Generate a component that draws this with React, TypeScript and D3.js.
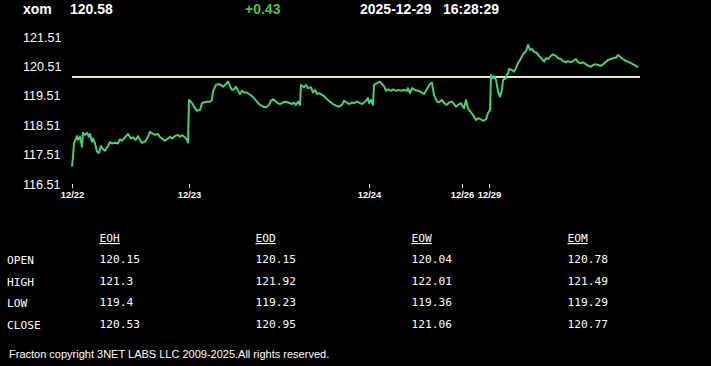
//@ts-nocheck
import * as d3 from "d3";
import { useEffect, useRef } from "react";

// header
const symbol = "xom";
const lastPrice = "120.58";
const change = "+0.43";
const quoteDate = "2025-12-29";
const quoteTime = "16:28:29";

// intraday series: [bar index, price]
const priceSeries = [
  [0, 117.1], [1, 117.44], [2, 117.89], [4, 118.06], [5, 118.14], [6, 118.01], [8, 118.12],
  [10, 117.78], [11, 118.25], [13, 118.18], [15, 118.25], [17, 118.12], [18, 118.21], [20, 117.95],
  [21, 118.06], [23, 117.89], [25, 117.61], [27, 117.57], [29, 117.8], [31, 117.69], [33, 117.64],
  [36, 117.8], [38, 117.94], [40, 117.89], [43, 117.91], [46, 117.89], [48, 118.03], [50, 117.98],
  [53, 118.1], [56, 118.21], [59, 118.06], [61, 118.1], [64, 118.01], [66, 118.14], [68, 118.01],
  [70, 117.91], [73, 117.95], [76, 118.12], [78, 118.29], [80, 118.23], [83, 118.18], [86, 118.21],
  [88, 118.1], [90, 118.06], [93, 117.98], [96, 118.06], [98, 118.12], [100, 118.06], [103, 118.14],
  [106, 118.18], [108, 118.12], [110, 118.17], [113, 118.1], [115, 118.01], [116, 117.92],
  [117, 119.37], [118, 119.34], [120, 119.26], [123, 119.09], [125, 119.0], [128, 119.03],
  [130, 119.26], [132, 119.28], [135, 119.31], [138, 119.31], [140, 119.37], [141, 119.65],
  [144, 119.88], [146, 119.91], [149, 119.88], [151, 119.82], [154, 119.91], [156, 119.99],
  [158, 119.84], [160, 119.71], [162, 119.73], [164, 119.82], [166, 119.68], [168, 119.57],
  [170, 119.68], [172, 119.62], [175, 119.62], [177, 119.57], [180, 119.5], [182, 119.43],
  [185, 119.31], [187, 119.23], [191, 119.14], [194, 119.12], [197, 119.2], [199, 119.34],
  [201, 119.39], [203, 119.34], [205, 119.28], [208, 119.23], [211, 119.28], [214, 119.31],
  [216, 119.28], [220, 119.23], [222, 119.28], [224, 119.2], [226, 119.31], [228, 119.2],
  [229, 119.88], [232, 119.8], [234, 119.88], [236, 119.77], [239, 119.8], [241, 119.62],
  [243, 119.71], [245, 119.57], [247, 119.6], [250, 119.54], [252, 119.5], [255, 119.39],
  [258, 119.31], [261, 119.23], [265, 119.16], [267, 119.14], [270, 119.2], [272, 119.34],
  [275, 119.28], [277, 119.23], [280, 119.28], [282, 119.26], [285, 119.31], [287, 119.28],
  [290, 119.23], [292, 119.28], [294, 119.34], [296, 119.43], [297, 119.26], [299, 119.37],
  [301, 119.2], [302, 119.88], [305, 119.94], [308, 119.99], [310, 119.91], [312, 119.84],
  [314, 119.68], [316, 119.73], [319, 119.68], [321, 119.73], [324, 119.68], [326, 119.71],
  [330, 119.68], [332, 119.71], [335, 119.68], [336, 119.77], [338, 119.6], [340, 119.77],
  [342, 119.73], [345, 119.68], [347, 119.68], [350, 119.62], [352, 119.57], [354, 119.68],
  [356, 119.8], [358, 119.91], [360, 119.96], [362, 119.54], [365, 119.31], [367, 119.29],
  [370, 119.37], [372, 119.26], [375, 119.2], [377, 119.28], [380, 119.31], [382, 119.23],
  [384, 119.14], [386, 119.2], [389, 119.26], [391, 119.14], [392, 119.09], [394, 119.37],
  [396, 119.09], [399, 118.94], [401, 118.86], [404, 118.69], [406, 118.75], [409, 118.71],
  [411, 118.66], [414, 118.71], [416, 118.92], [418, 119.03], [419, 120.22], [421, 120.11],
  [422, 120.18], [424, 120.05], [426, 119.65], [428, 119.48], [430, 119.71], [431, 120.05],
  [434, 120.11], [435, 120.22], [436, 120.28], [437, 120.42], [440, 120.39], [442, 120.33],
  [444, 120.45], [446, 120.62], [449, 120.79], [451, 120.92], [454, 121.03], [456, 121.24],
  [458, 121.07], [460, 121.1], [462, 121.01], [465, 120.96], [467, 120.87], [470, 120.76],
  [472, 120.67], [474, 120.79], [476, 120.76], [479, 120.87], [481, 120.92], [484, 120.87],
  [486, 120.79], [489, 120.76], [491, 120.69], [494, 120.65], [496, 120.69], [499, 120.65],
  [501, 120.69], [504, 120.76], [506, 120.65], [509, 120.62], [511, 120.65], [514, 120.58],
  [516, 120.53], [519, 120.5], [521, 120.56], [524, 120.58], [526, 120.56], [529, 120.53],
  [531, 120.58], [534, 120.67], [536, 120.73], [539, 120.76], [541, 120.79], [544, 120.81],
  [546, 120.9], [549, 120.81], [551, 120.76], [554, 120.69], [556, 120.67], [559, 120.62],
  [561, 120.58], [564, 120.53], [566, 120.47]
];
const barCount = 568;
const referencePrice = 120.15;

// axes
const yTicks = [116.51, 117.51, 118.51, 119.51, 120.51, 121.51];
const sessionStarts = [0, 117, 297, 390, 417];
const sessionLabels = ["12/22", "12/23", "12/24", "12/26", "12/29"];

// summary table
const tableColumns = ["EOH", "EOD", "EOW", "EOM"];
const tableRows = ["OPEN", "HIGH", "LOW", "CLOSE"];
const openValues = ["120.15", "120.15", "120.04", "120.78"];
const highValues = ["121.3", "121.92", "122.01", "121.49"];
const lowValues = ["119.4", "119.23", "119.36", "119.29"];
const closeValues = ["120.53", "120.95", "121.06", "120.77"];
const footer = "Fracton copyright 3NET LABS LLC 2009-2025.All rights reserved.";

const W = 711, H = 366;

const App = () => {
  const ref = useRef(null);

  useEffect(() => {
    document.body.style.margin = "0";
    document.body.style.background = "#000";
    const svg = d3.select(ref.current);
    svg.selectAll("*").remove();

    svg.append("rect").attr("width", W).attr("height", H).attr("fill", "#000");

    const sans = "'Liberation Sans', Arial, sans-serif";
    const mono = "'DejaVu Sans Mono', monospace";

    // header line
    const head = svg.append("g").attr("font-family", sans).attr("font-weight", "bold").attr("font-size", 14);
    head.append("text").attr("x", 23).attr("y", 14).attr("fill", "#fff").text(symbol);
    head.append("text").attr("x", 70).attr("y", 14).attr("fill", "#fff").text(lastPrice);
    head.append("text").attr("x", 245).attr("y", 14).attr("fill", "#45c43f").text(change);
    head.append("text").attr("x", 360).attr("y", 14).attr("fill", "#fff").text(quoteDate);
    head.append("text").attr("x", 443).attr("y", 14).attr("fill", "#fff").text(quoteTime);

    const x = d3.scaleLinear().domain([0, barCount]).range([72, 640]);
    const y = d3.scaleLinear().domain([116.51, 121.51]).range([184, 37]);

    // y labels
    svg.append("g")
      .selectAll("text")
      .data(yTicks)
      .enter()
      .append("text")
      .attr("x", 23)
      .attr("y", d => y(d))
      .attr("dy", "0.36em")
      .attr("fill", "#fff")
      .attr("font-family", sans)
      .attr("font-size", 12.6)
      .text(d => d.toFixed(2));

    // x axis (session starts)
    const xAxis = d3.axisBottom(x)
      .tickValues(sessionStarts)
      .tickFormat((d, i) => sessionLabels[i])
      .tickSize(4)
      .tickPadding(3);
    const gx = svg.append("g").attr("transform", "translate(0,184)").call(xAxis);
    gx.select(".domain").remove();
    gx.selectAll(".tick line").attr("stroke", "#ddd");
    gx.selectAll(".tick text")
      .attr("fill", "#fff")
      .attr("font-family", sans)
      .attr("font-size", 9.4)
      .attr("font-weight", "bold");

    // reference line at open
    svg.append("line")
      .attr("x1", x(0)).attr("x2", x(barCount))
      .attr("y1", y(referencePrice)).attr("y2", y(referencePrice))
      .attr("stroke", "#e4f0a6")
      .attr("stroke-width", 2);

    // price line
    const line = d3.line().x(d => x(d[0])).y(d => y(d[1]));
    svg.append("path")
      .datum(priceSeries)
      .attr("d", line)
      .attr("fill", "none")
      .attr("stroke", "#46d271")
      .attr("stroke-width", 2)
      .attr("stroke-linejoin", "round");

    // summary table
    const colX = d3.scalePoint().domain(tableColumns).range([99.5, 567.5]);
    const rowY = d3.scalePoint().domain(tableRows).range([263, 328]);
    const values = [openValues, highValues, lowValues, closeValues];
    const tbl = svg.append("g").attr("font-family", mono).attr("font-size", 11.2).attr("fill", "#fff");

    tbl.selectAll("text.col")
      .data(tableColumns)
      .enter()
      .append("text")
      .attr("class", "col")
      .attr("x", d => colX(d))
      .attr("y", 242)
      .attr("text-decoration", "underline")
      .text(d => d);

    tbl.selectAll("text.row")
      .data(tableRows)
      .enter()
      .append("text")
      .attr("class", "row")
      .attr("x", 7)
      .attr("y", d => rowY(d) + 1)
      .text(d => d);

    tableRows.forEach((r, ri) => {
      tableColumns.forEach((c, ci) => {
        tbl.append("text")
          .attr("x", colX(c))
          .attr("y", rowY(r))
          .text(values[ri][ci]);
      });
    });

    svg.append("text")
      .attr("x", 9)
      .attr("y", 358)
      .attr("fill", "#fff")
      .attr("font-family", sans)
      .attr("font-size", 11)
      .text(footer);
  }, []);

  return (
    <svg ref={ref} width={W} height={H} style={{ position: "absolute", left: 0, top: 0, display: "block" }}></svg>
  );
};

export default App;
